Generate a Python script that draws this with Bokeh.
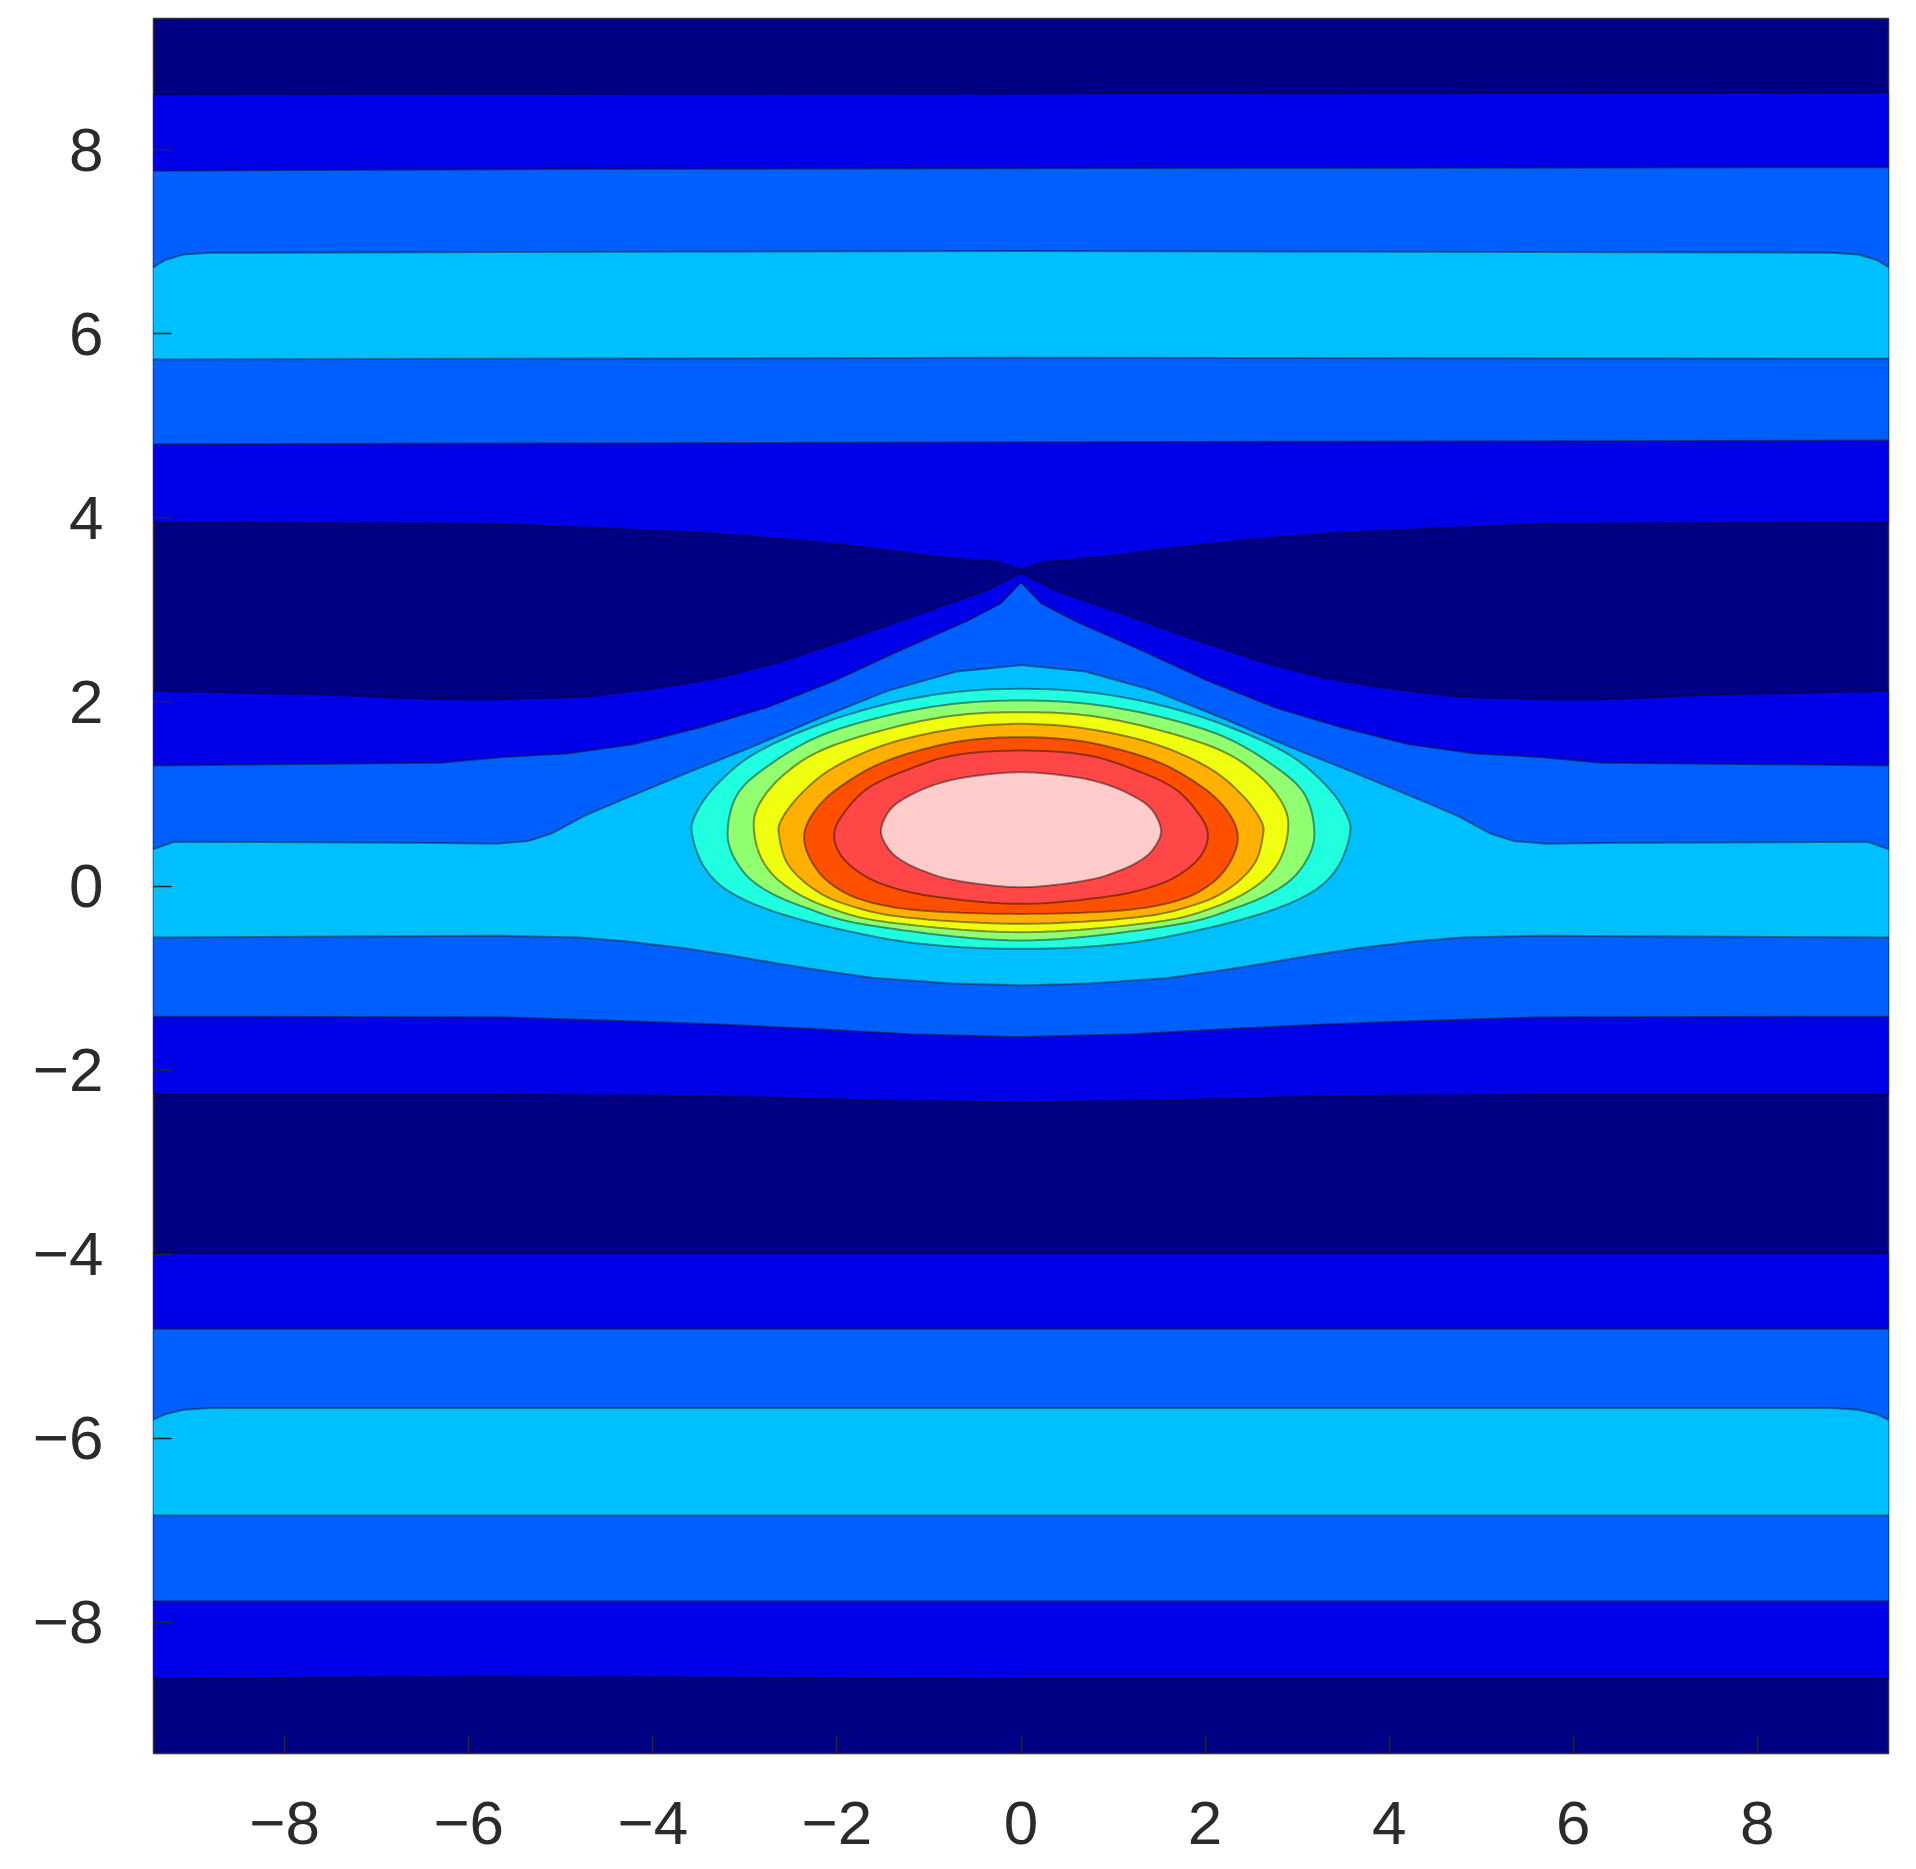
import numpy as np
from bokeh.plotting import figure
from bokeh.models import FixedTicker, Range1d
from bokeh.embed import file_html
from bokeh.resources import INLINE

# ---------------- data ----------------
# axis
AXIS_LIMIT = 3 * np.pi
TICKS = [-8, -6, -4, -2, 0, 2, 4, 6, 8]
TICK_LABELS = ["\u22128", "\u22126", "\u22124", "\u22122", "0", "2", "4", "6", "8"]

# level colours (low -> high)
LEVEL_COLORS = ["#000085", "#0000E8", "#0060FF", "#00BFFF", "#20FFDF",
                "#90FF70", "#F0FF10", "#FFB000", "#FF5000", "#FF4747", "#FFCCCC"]

# full-width, nearly flat contour lines (x, y)
TOP_NAVY_BLUE_X = [-9.43, 0.0, 9.43]
TOP_NAVY_BLUE_Y = [8.60, 8.61, 8.62]
TOP_BLUE_MED_X = [-9.43, -5.0, 9.43]
TOP_BLUE_MED_Y = [7.77, 7.79, 7.81]
TOP_MED_LIGHT_X = [-9.43, -9.3, -9.1, -8.8, 0.0, 8.8, 9.1, 9.3, 9.43]
TOP_MED_LIGHT_Y = [6.72, 6.80, 6.86, 6.88, 6.90, 6.88, 6.86, 6.80, 6.72]
TOP_LIGHT_MED_X = [-9.43, 0.0, 9.43]
TOP_LIGHT_MED_Y = [5.72, 5.74, 5.73]
TOP_MED_BLUE_X = [-9.43, 0.0, 9.43]
TOP_MED_BLUE_Y = [4.80, 4.82, 4.84]

BOT_NAVY_BLUE_X = [-9.43, 0.0, 9.43]
BOT_NAVY_BLUE_Y = [-3.99, -3.99, -3.99]
BOT_BLUE_MED_X = [-9.43, 0.0, 9.43]
BOT_BLUE_MED_Y = [-4.81, -4.81, -4.81]
BOT_MED_LIGHT_X = [-9.43, -9.3, -9.1, -8.8, 0.0, 8.8, 9.1, 9.3, 9.43]
BOT_MED_LIGHT_Y = [-5.80, -5.74, -5.69, -5.67, -5.67, -5.67, -5.69, -5.74, -5.80]
BOT_LIGHT_MED_X = [-9.43, 0.0, 9.43]
BOT_LIGHT_MED_Y = [-6.84, -6.84, -6.84]
BOT_MED_BLUE_X = [-9.43, 0.0, 9.43]
BOT_MED_BLUE_Y = [-7.77, -7.77, -7.77]
BOT_BLUE_NAVY_X = [-9.43, -6.0, 0.0, 9.43]
BOT_BLUE_NAVY_Y = [-8.61, -8.59, -8.61, -8.61]

# central contour lines, symmetric in x: half profiles (|x|, y)
NAVY_UP_HX = [0.0, 0.25, 0.95, 1.7, 2.45, 3.4, 4.6, 5.66, 9.43]
NAVY_UP_Y = [3.44, 3.52, 3.58, 3.68, 3.76, 3.835, 3.89, 3.935, 3.95]
NAVY_LO_HX = [0.0, 0.38, 1.1, 1.85, 2.6, 3.3, 3.9, 4.7, 5.66, 6.3, 7.6, 9.43]
NAVY_LO_Y = [3.40, 3.21, 2.957, 2.69, 2.44, 2.26, 2.16, 2.06, 2.03, 2.03, 2.08, 2.12]
MED_TOP_HX = [0.0, 0.22, 0.585, 1.31, 2.03, 2.76, 3.48, 4.21, 4.93, 5.66, 6.3, 9.43]
MED_TOP_Y = [3.30, 3.07, 2.88, 2.56, 2.23, 1.94, 1.725, 1.54, 1.44, 1.40, 1.34, 1.31]
LIGHT_TOP_HX = [0.0, 0.7, 1.45, 2.2, 2.9, 3.6, 4.35, 4.75, 5.1, 5.35, 5.7, 6.5, 9.2, 9.43]
LIGHT_TOP_Y = [2.40, 2.33, 2.12, 1.82, 1.52, 1.24, 0.93, 0.76, 0.57, 0.49, 0.46, 0.47, 0.48, 0.40]
LIGHT_BOT_HX = [0.0, 0.75, 1.6, 2.1, 2.6, 3.15, 3.7, 4.3, 4.8, 5.66, 9.43]
LIGHT_BOT_Y = [-1.08, -1.06, -1.00, -0.93, -0.85, -0.755, -0.67, -0.60, -0.56, -0.54, -0.56]
MED_BOT_HX = [0.0, 1.2, 2.3, 3.4, 4.5, 5.66, 9.43]
MED_BOT_Y = [-1.64, -1.61, -1.55, -1.50, -1.46, -1.425, -1.42]
BLUE_BOT_HX = [0.0, 1.5, 3.0, 5.66, 9.43]
BLUE_BOT_Y = [-2.35, -2.33, -2.29, -2.26, -2.26]

# closed rings around the maximum: right halves, top (x=0) -> bottom (x=0)
RING_AQUA_HX = [0, 0.724, 1.449, 2.173, 2.897, 3.332, 3.549, 3.567, 3.440, 3.187, 2.716, 1.992, 1.086, 0]
RING_AQUA_Y = [2.142, 2.106, 1.979, 1.762, 1.436, 1.073, 0.748, 0.530, 0.204, -0.049, -0.266, -0.465, -0.628, -0.683]
RING_GREEN_HX = [0, 0.724, 1.449, 2.173, 2.716, 3.078, 3.187, 3.078, 2.825, 2.354, 1.630, 0]
RING_GREEN_Y = [2.015, 1.979, 1.852, 1.635, 1.327, 1.001, 0.566, 0.241, -0.013, -0.230, -0.429, -0.592]
RING_YELLOW_HX = [0, 0.724, 1.449, 2.173, 2.607, 2.861, 2.897, 2.788, 2.535, 2.100, 1.449, 0]
RING_YELLOW_Y = [1.888, 1.852, 1.707, 1.472, 1.182, 0.856, 0.566, 0.241, -0.013, -0.230, -0.393, -0.502]
RING_ORANGE_HX = [0, 0.724, 1.449, 2.028, 2.390, 2.607, 2.625, 2.535, 2.281, 1.919, 1.267, 0]
RING_ORANGE_Y = [1.762, 1.707, 1.544, 1.291, 1.001, 0.711, 0.530, 0.241, -0.013, -0.194, -0.339, -0.411]
RING_REDOR_HX = [0, 0.724, 1.449, 1.919, 2.209, 2.354, 2.281, 2.064, 1.702, 1.086, 0]
RING_REDOR_Y = [1.617, 1.562, 1.363, 1.110, 0.856, 0.566, 0.277, 0.023, -0.158, -0.266, -0.303]
RING_RED_HX = [0, 0.724, 1.267, 1.666, 1.919, 2.028, 1.974, 1.774, 1.449, 0.905, 0]
RING_RED_Y = [1.472, 1.42, 1.25, 1.06, 0.80, 0.58, 0.36, 0.16, 0.00, -0.12, -0.194]
RING_PINK_HX = [0, 0.543, 0.905, 1.195, 1.412, 1.521, 1.45, 1.30, 1.05, 0.70, 0]
RING_PINK_Y = [1.236, 1.19, 1.11, 0.99, 0.84, 0.61, 0.42, 0.28, 0.16, 0.06, -0.013]


# ---------------- helpers (geometry only) ----------------
def mirror_profile(hx, hy):
    xs = [-v for v in reversed(hx)] + list(hx[1:])
    ys = list(reversed(hy)) + list(hy[1:])
    return xs, ys


def mirror_ring(hx, hy):
    xs = list(hx) + [-v for v in reversed(hx[1:-1])]
    ys = list(hy) + list(reversed(hy[1:-1]))
    return xs, ys


def smooth_closed(xs, ys, steps=12):
    """Render a closed contour through its read points as a smooth curve."""
    pts = np.column_stack([xs, ys]).astype(float)
    n = len(pts)
    out = []
    for i in range(n):
        p0, p1, p2, p3 = pts[(i - 1) % n], pts[i], pts[(i + 1) % n], pts[(i + 2) % n]
        for t in np.linspace(0.0, 1.0, steps, endpoint=False):
            t2, t3 = t * t, t * t * t
            out.append(0.5 * (2 * p1 + (p2 - p0) * t
                              + (2 * p0 - 5 * p1 + 4 * p2 - p3) * t2
                              + (3 * p1 - p0 - 3 * p2 + p3) * t3))
    out = np.array(out)
    return list(out[:, 0]), list(out[:, 1])


def band(lower, upper):
    lx, ly = lower
    ux, uy = upper
    return list(lx) + list(reversed(ux)), list(ly) + list(reversed(uy))


navy_up = mirror_profile(NAVY_UP_HX, NAVY_UP_Y)
navy_lo = mirror_profile(NAVY_LO_HX, NAVY_LO_Y)
med_top = mirror_profile(MED_TOP_HX, MED_TOP_Y)
light_top = mirror_profile(LIGHT_TOP_HX, LIGHT_TOP_Y)
light_bot = mirror_profile(LIGHT_BOT_HX, LIGHT_BOT_Y)
med_bot = mirror_profile(MED_BOT_HX, MED_BOT_Y)
blue_bot = mirror_profile(BLUE_BOT_HX, BLUE_BOT_Y)

top_nb = (TOP_NAVY_BLUE_X, TOP_NAVY_BLUE_Y)
top_bm = (TOP_BLUE_MED_X, TOP_BLUE_MED_Y)
top_ml = (TOP_MED_LIGHT_X, TOP_MED_LIGHT_Y)
top_lm = (TOP_LIGHT_MED_X, TOP_LIGHT_MED_Y)
top_mb = (TOP_MED_BLUE_X, TOP_MED_BLUE_Y)
bot_nb = (BOT_NAVY_BLUE_X, BOT_NAVY_BLUE_Y)
bot_bm = (BOT_BLUE_MED_X, BOT_BLUE_MED_Y)
bot_ml = (BOT_MED_LIGHT_X, BOT_MED_LIGHT_Y)
bot_lm = (BOT_LIGHT_MED_X, BOT_LIGHT_MED_Y)
bot_mb = (BOT_MED_BLUE_X, BOT_MED_BLUE_Y)
bot_bn = (BOT_BLUE_NAVY_X, BOT_BLUE_NAVY_Y)

# superlevel regions per level
regions = {
    1: [band(bot_bn, bot_nb), band(blue_bot, navy_lo), band(navy_up, top_nb)],
    2: [band(bot_mb, bot_bm), band(med_bot, med_top), band(top_mb, top_bm)],
    3: [band(bot_lm, bot_ml), band(light_bot, light_top), band(top_lm, top_ml)],
}
rings = [
    (4, RING_AQUA_HX, RING_AQUA_Y),
    (5, RING_GREEN_HX, RING_GREEN_Y),
    (6, RING_YELLOW_HX, RING_YELLOW_Y),
    (7, RING_ORANGE_HX, RING_ORANGE_Y),
    (8, RING_REDOR_HX, RING_REDOR_Y),
    (9, RING_RED_HX, RING_RED_Y),
    (10, RING_PINK_HX, RING_PINK_Y),
]
open_lines = [top_nb, top_bm, top_ml, top_lm, top_mb, bot_nb, bot_bm, bot_ml, bot_lm,
              bot_mb, bot_bn, navy_up, navy_lo, med_top, light_top, light_bot, med_bot, blue_bot]

# ---------------- figure ----------------
p = figure(width=1908, height=1863,
           x_range=Range1d(-AXIS_LIMIT, AXIS_LIMIT), y_range=Range1d(-AXIS_LIMIT, AXIS_LIMIT),
           output_backend="svg", toolbar_location=None,
           min_border_left=153, min_border_right=20, min_border_top=18, min_border_bottom=110)
p.background_fill_color = LEVEL_COLORS[0]
p.border_fill_color = "white"
p.xgrid.visible = False
p.ygrid.visible = False
p.outline_line_color = "#333333"
p.outline_line_width = 1.5

LINE_KW = dict(line_color="black", line_alpha=0.42, line_width=2)

for lvl in (1, 2, 3):
    for xs, ys in regions[lvl]:
        p.patch(xs, ys, fill_color=LEVEL_COLORS[lvl], line_color=None)

for lvl, hx, hy in rings:
    xs, ys = smooth_closed(*mirror_ring(hx, hy))
    p.patch(xs, ys, fill_color=LEVEL_COLORS[lvl], **LINE_KW)

for xs, ys in open_lines:
    p.line(xs, ys, **LINE_KW)

overrides = {t: lab for t, lab in zip(TICKS, TICK_LABELS)}
for ax in (p.xaxis[0], p.yaxis[0]):
    ax.ticker = FixedTicker(ticks=TICKS)
    ax.major_label_overrides = overrides
    ax.major_label_text_font = "Liberation Sans"
    ax.major_label_text_font_size = "62px"
    ax.major_label_text_color = "#2b2b2b"
    ax.major_tick_in = 18
    ax.major_tick_out = 0
    ax.major_tick_line_color = "#262626"
    ax.major_tick_line_width = 1.5
    ax.minor_tick_line_color = None
    ax.axis_line_color = None
p.xaxis[0].major_label_standoff = 48
p.yaxis[0].major_label_standoff = 50

open("out.html", "w").write(file_html(p, INLINE))
